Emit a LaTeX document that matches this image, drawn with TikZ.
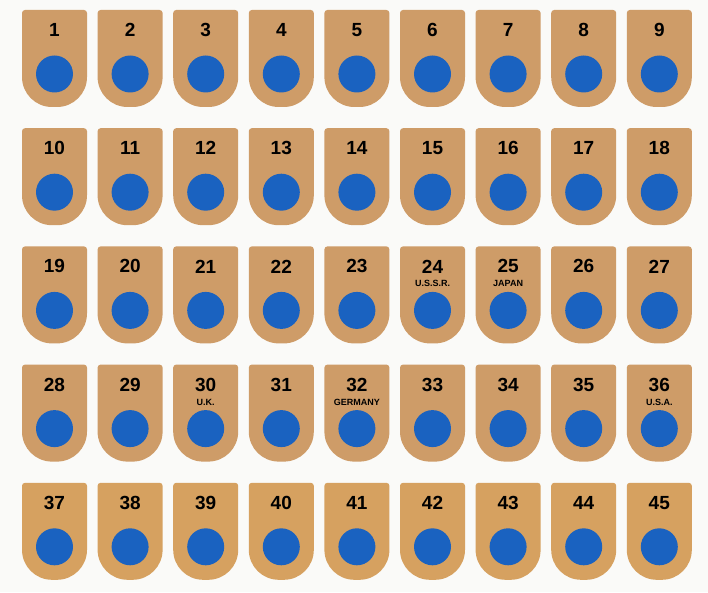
\documentclass[tikz,border=0pt]{standalone}
\usepackage{fontspec}
\setmainfont{Liberation Sans}
\definecolor{tan}{RGB}{206,156,104}
\definecolor{tanb}{RGB}{214,161,96}
\definecolor{dot}{RGB}{26,98,192}
\definecolor{bg}{RGB}{250,250,248}
\begin{document}
\begin{tikzpicture}[x=1pt,y=1pt,
  num/.style={font=\fontsize{19}{19}\selectfont\bfseries, text=black, inner sep=0pt},
  cty/.style={font=\fontsize{9}{9}\selectfont\bfseries, text=black, inner sep=0pt},
  dotc/.style={circle, fill=dot, minimum size=37pt, inner sep=0pt},
  tabshape/.style={fill=#1}]
\fill[bg] (0,0) rectangle (708,592);
\useasboundingbox (0,0) rectangle (708,592);
\foreach \r in {0,...,4} {
  \foreach \c in {0,...,8} {
    \pgfmathtruncatemacro\n{\r*9+\c+1}
    \pgfmathsetmacro\L{22+75.6*\c}
    \pgfmathsetmacro\T{582-118.2*\r}
    \pgfmathsetmacro\R{\L+65}
    \pgfmathsetmacro\B{\T-97}
    \ifnum\r=4 \def\tabcol{tanb}\else\def\tabcol{tan}\fi
    \path[tabshape=\tabcol] (\L,\B+30) -- (\L,\T-3)
      arc[start angle=180,end angle=90,radius=3] -- (\R-3,\T)
      arc[start angle=90,end angle=0,radius=3] -- (\R,\B+30)
      arc[start angle=0,end angle=-90,radius=30] -- (\L+30,\B)
      arc[start angle=270,end angle=180,radius=30] -- cycle;
    \node[num] (n\n) at (\L+32.5,\T-20) {\n};
    \node[dotc] (d\n) at (\L+32.5,\T-64) {};
  }
}
\foreach \n/\lab in {24/U.S.S.R., 25/JAPAN, 30/U.K., 32/GERMANY, 36/U.S.A.} {
  \node[cty] (l\n) at ([yshift=-17.5pt]n\n.center) {\lab};
}
\end{tikzpicture}
\end{document}
